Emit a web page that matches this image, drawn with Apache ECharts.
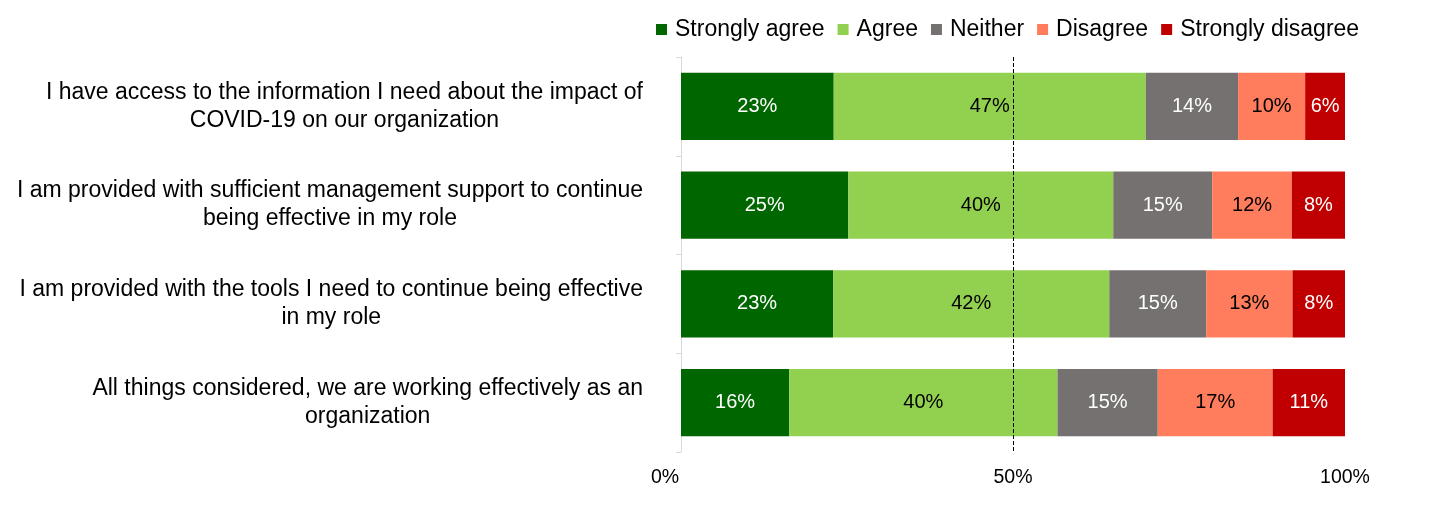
<!DOCTYPE html>
<html>
<head>
<meta charset="utf-8">
<script src="https://cdn.jsdelivr.net/npm/echarts@6/dist/echarts.min.js"></script>
<style>
html,body{margin:0;padding:0;background:#fff;}
#c{width:1431px;height:507px;}
</style>
</head>
<body>
<div id="c"></div>
<script>
var categories = [
  "I have access to the information I need about the impact of\nCOVID-19 on our organization",
  "I am provided with sufficient management support to continue\nbeing effective in my role",
  "I am provided with the tools I need to continue being effective\nin my role",
  "All things considered, we are working effectively as an\norganization"
];
var seriesNames = ["Strongly agree", "Agree", "Neither", "Disagree", "Strongly disagree"];
var stronglyAgree = [23.0, 25.2, 22.9, 16.3];
var agree = [47.0, 39.9, 41.6, 40.4];
var neither = [13.9, 14.9, 14.6, 15.1];
var disagree = [10.1, 12.0, 13.0, 17.3];
var stronglyDisagree = [6.0, 8.0, 8.0, 11.0];
var xTicks = [0, 50, 100];
var referenceLine = 50;

var colors = ["#006600", "#92D050", "#767171", "#FF7C5C", "#C00000"];
var labelColors = ["#ffffff", "#000000", "#ffffff", "#000000", "#ffffff"];
var values = [stronglyAgree, agree, neither, disagree, stronglyDisagree];
var FF = "'Liberation Sans', Arial, sans-serif";

var series = seriesNames.map(function (name, i) {
  var s = {
    name: name,
    type: 'bar',
    stack: 'total',
    data: values[i],
    barCategoryGap: '32%',
    itemStyle: { color: colors[i] },
    label: {
      show: true,
      position: 'inside',
      color: labelColors[i],
      fontSize: 20,
      fontFamily: FF,
      formatter: function (p) { return Math.round(p.value) + '%'; }
    }
  };
  if (i === 0) {
    s.markLine = {
      silent: true,
      symbol: 'none',
      label: { show: false },
      lineStyle: { type: 'dashed', color: '#000', width: 1 },
      data: [{ xAxis: referenceLine }]
    };
  }
  return s;
});

var chart = echarts.init(document.getElementById('c'), null, { renderer: 'canvas' });
chart.setOption({
  animation: false,
  color: colors,
  legend: {
    top: 13,
    left: 651,
    itemWidth: 11,
    itemHeight: 11,
    itemGap: 13,
    icon: 'rect',
    textStyle: { fontSize: 23, fontFamily: FF, color: '#000', padding: [0, 0, 0, 3] },
    data: seriesNames
  },
  grid: { left: 681, right: 86, top: 57, bottom: 55, containLabel: false },
  xAxis: {
    type: 'value',
    min: 0,
    max: 100,
    interval: 50,
    axisLine: { show: false },
    axisTick: { show: false },
    splitLine: { show: false },
    axisLabel: {
      margin: 16,
      fontSize: 19.5,
      fontFamily: FF,
      color: '#000',
      formatter: function (v) { return v === 0 ? '{z|0%}' : v + '%'; },
      rich: { z: { fontSize: 19.5, fontFamily: FF, color: '#000', padding: [0, 32, 0, 0] } }
    }
  },
  yAxis: {
    type: 'category',
    inverse: true,
    data: categories,
    axisLine: { show: true, lineStyle: { color: '#d9d9d9', width: 1 } },
    axisTick: { show: true, length: 5, lineStyle: { color: '#d9d9d9' } },
    axisLabel: {
      margin: 38,
      color: '#000',
      fontSize: 23,
      fontFamily: FF,
      formatter: function (v) {
        return v.split('\n').map(function (l) { return '{c|' + l + '}'; }).join('\n');
      },
      rich: { c: { align: 'center', fontSize: 23, fontFamily: FF, color: '#000', lineHeight: 28 } }
    }
  },
  series: series
});
</script>
</body>
</html>
